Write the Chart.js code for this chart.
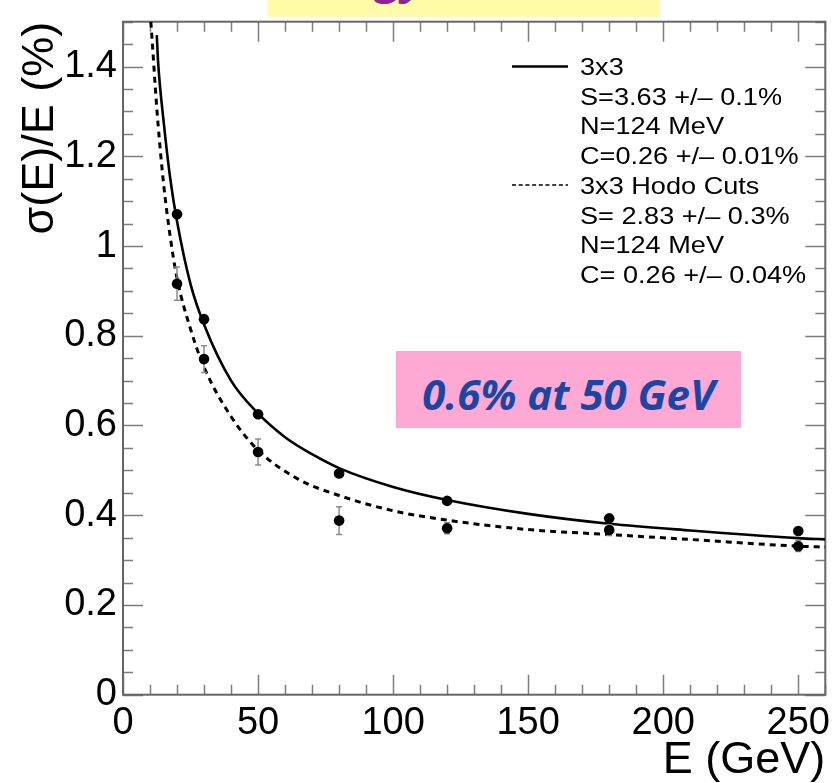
<!DOCTYPE html>
<html><head><meta charset="utf-8">
<script src="https://cdn.jsdelivr.net/npm/chart.js@4.4.1/dist/chart.umd.min.js"></script>
<style>
html,body{margin:0;padding:0;background:#fff;}
#wrap{position:relative;width:837px;height:783px;overflow:hidden;background:#fff;}
#c{position:absolute;left:0;top:0;}
#banner{position:absolute;left:268px;top:0;width:392px;height:17px;background:#FFFBA9;overflow:hidden;}
#banner span{position:absolute;left:6px;top:-59px;font-family:"Open Sans";font-weight:700;font-style:italic;font-size:48px;line-height:normal;color:#93229A;white-space:nowrap;}
#legend{position:absolute;left:580px;top:52px;font-family:"Liberation Sans";font-size:24px;line-height:29.7px;color:#000;white-space:nowrap;transform:scaleX(1.13);transform-origin:0 0;}
#legsvg{position:absolute;left:0;top:0;}
#note{position:absolute;left:396px;top:351px;width:345px;height:69px;padding-top:8px;background:#FDA9D3;text-align:center;line-height:69px;font-family:"Open Sans";font-weight:700;font-style:italic;font-size:42px;color:#1848A4;white-space:nowrap;}
</style></head><body>
<div id="wrap">
<canvas id="c" width="837" height="783"></canvas>
<svg id="legsvg" width="837" height="783">
  <line x1="512" y1="66.5" x2="568" y2="66.5" stroke="#000" stroke-width="2.3"/>
  <line x1="512" y1="185" x2="568" y2="185" stroke="#000" stroke-width="1.6" stroke-dasharray="4,2.7"/>
</svg>
<div id="banner"><span>Energy Resolution</span></div>
<div id="legend">
<div>3x3</div>
<div>S=3.63 +/– 0.1%</div>
<div>N=124 MeV</div>
<div>C=0.26 +/– 0.01%</div>
<div>3x3 Hodo Cuts</div>
<div>S= 2.83 +/– 0.3%</div>
<div>N=124 MeV</div>
<div>C= 0.26 +/– 0.04%</div>
</div>
<div id="note">0.6% at 50 GeV</div>
</div>
<script>
// ---- data ----
const energies = [20, 30, 50, 80, 120, 180, 250];
const res3x3 = [1.071, 0.837, 0.625, 0.493, 0.432, 0.393, 0.365];
const err3x3 = [0.008, 0.007, 0.006, 0.005, 0.005, 0.005, 0.005];
const resHodo = [0.916, 0.748, 0.541, 0.388, 0.371, 0.367, 0.331];
const errHodo = [0.037, 0.030, 0.029, 0.031, 0.012, 0.012, 0.012];

const fitE3x3 = [12.5, 13, 15, 17.5, 20, 25, 30, 40, 50, 60, 70, 80, 100, 120, 150, 180, 210, 250, 260];
const fit3x3  = [1.47, 1.41, 1.28, 1.15, 1.055, 0.915, 0.825, 0.70, 0.627, 0.574, 0.536, 0.505, 0.463, 0.434, 0.403, 0.381, 0.366, 0.349, 0.346];
const fitEHodo = [10.3, 11, 12, 13, 15, 17.5, 20, 25, 30, 40, 50, 65, 80, 100, 120, 150, 180, 210, 250, 260];
const fitHodo  = [1.50, 1.44, 1.35, 1.27, 1.14, 1.02, 0.928, 0.815, 0.73, 0.62, 0.545, 0.48, 0.444, 0.41, 0.389, 0.368, 0.357, 0.346, 0.331, 0.329];

const xTickValues = [0, 50, 100, 150, 200, 250];
const xTickLabels = ['0', '50', '100', '150', '200', '250'];
const yTickValues = [0, 0.2, 0.4, 0.6, 0.8, 1.0, 1.2, 1.4];
const yTickLabels = ['0', '0.2', '0.4', '0.6', '0.8', '1', '1.2', '1.4'];

const toXY = (xs, ys) => xs.map((x, i) => ({x: x, y: ys[i]}));

// ROOT-style frame with inner ticks on all four sides
const frameTicks = {
  id: 'frameTicks',
  beforeDatasetsDraw(chart) {
    const {ctx, chartArea: {left, right, top, bottom}, scales: {x, y}} = chart;
    ctx.save();
    ctx.strokeStyle = '#7d7d7d';
    ctx.lineWidth = 1.5;
    ctx.beginPath();
    for (let i = 0; i <= 26; i++) {
      const px = Math.round(x.getPixelForValue(i * 10)) + 0.5;
      const len = (i % 5 === 0) ? 20 : 10;
      ctx.moveTo(px, bottom); ctx.lineTo(px, bottom - len);
      ctx.moveTo(px, top); ctx.lineTo(px, top + len);
    }
    for (let j = 0; j <= 30; j++) {
      const py = Math.round(y.getPixelForValue(j * 0.05)) + 0.5;
      const len = (j % 4 === 0) ? 20 : 10;
      ctx.moveTo(left, py); ctx.lineTo(left + len, py);
      ctx.moveTo(right, py); ctx.lineTo(right - len, py);
    }
    ctx.stroke();
    ctx.strokeStyle = '#666';
    ctx.lineWidth = 2;
    ctx.strokeRect(left, top, right - left, bottom - top);
    ctx.restore();
  }
};

// vertical error bars drawn just before the marker datasets
const errorBars = {
  id: 'errorBars',
  beforeDatasetDraw(chart, args) {
    const ds = chart.data.datasets[args.index];
    if (!ds.errors) return;
    const {ctx, scales: {x, y}} = chart;
    ctx.save();
    ctx.strokeStyle = '#8c8c8c';
    ctx.lineWidth = 1.5;
    ctx.beginPath();
    ds.data.forEach((p, i) => {
      const px = x.getPixelForValue(p.x);
      const y1 = y.getPixelForValue(p.y + ds.errors[i]);
      const y2 = y.getPixelForValue(p.y - ds.errors[i]);
      ctx.moveTo(px, y1); ctx.lineTo(px, y2);
      ctx.moveTo(px - 3, y1); ctx.lineTo(px + 3, y1);
      ctx.moveTo(px - 3, y2); ctx.lineTo(px + 3, y2);
    });
    ctx.stroke();
    ctx.restore();
  }
};

const font = 'Liberation Sans';

new Chart(document.getElementById('c'), {
  type: 'scatter',
  data: {
    datasets: [
      {label: '3x3 data', data: toXY(energies, res3x3), errors: err3x3, showLine: false,
       pointRadius: 5.3, pointBackgroundColor: '#000', pointBorderColor: '#000', pointBorderWidth: 0},
      {label: '3x3 Hodo Cuts data', data: toXY(energies, resHodo), errors: errHodo, showLine: false,
       pointRadius: 5.3, pointBackgroundColor: '#000', pointBorderColor: '#000', pointBorderWidth: 0},
      {label: '3x3', data: toXY(fitE3x3, fit3x3), showLine: true, pointRadius: 0,
       borderColor: '#000', borderWidth: 2.6, cubicInterpolationMode: 'monotone', fill: false},
      {label: '3x3 Hodo Cuts', data: toXY(fitEHodo, fitHodo), showLine: true, pointRadius: 0,
       borderColor: '#000', borderWidth: 3, borderDash: [6, 5], cubicInterpolationMode: 'monotone', fill: false}
    ]
  },
  options: {
    responsive: false,
    animation: false,
    devicePixelRatio: 1,
    layout: {padding: {left: 0, right: 11.7, top: 21.7, bottom: 0}},
    plugins: {legend: {display: false}, tooltip: {enabled: false}},
    scales: {
      x: {
        type: 'linear', min: 0, max: 260,
        grid: {display: false, drawTicks: false},
        border: {display: false},
        ticks: {
          stepSize: 50, includeBounds: false, autoSkip: false, maxRotation: 0,
          padding: 6, color: '#000', font: {family: font, size: 38},
          callback: (v) => { const k = xTickValues.indexOf(v); return k >= 0 ? xTickLabels[k] : ''; }
        },
        title: {display: true, text: 'E (GeV)', align: 'end', color: '#000',
                font: {family: font, size: 45, lineHeight: 1}, padding: {top: 0, bottom: 0}},
        afterFit(s) { s.height = 88.3; s.paddingLeft = 0; s.paddingRight = 0; }
      },
      y: {
        type: 'linear', min: 0, max: 1.5,
        grid: {display: false, drawTicks: false},
        border: {display: false},
        ticks: {
          stepSize: 0.2, includeBounds: false, autoSkip: false,
          padding: 6, color: '#000', font: {family: font, size: 38},
          callback: (v) => { const k = Math.round(v / 0.2); return yTickLabels[k] ?? ''; }
        },
        title: {display: true, text: 'σ(E)/E (%)', align: 'end', color: '#000',
                font: {family: font, size: 45, lineHeight: 1}, padding: {top: 18, bottom: 0}},
        afterFit(s) { s.width = 123; s.paddingTop = 0; s.paddingBottom = 0; }
      }
    }
  },
  plugins: [frameTicks, errorBars]
});
</script>
</body></html>
